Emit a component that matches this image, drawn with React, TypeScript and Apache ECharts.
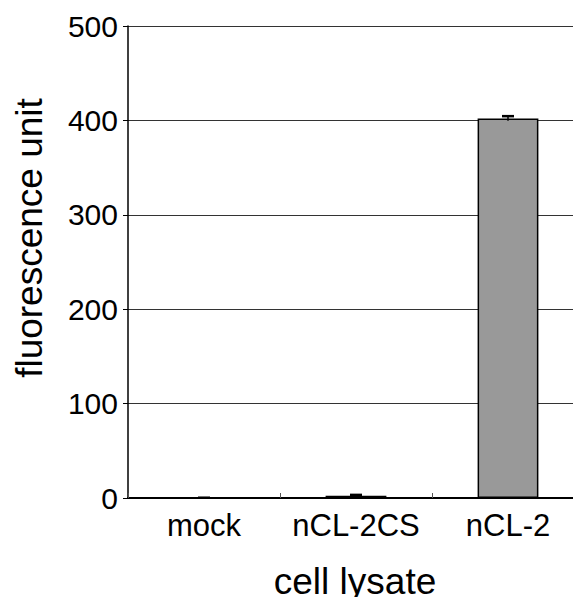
import React, { useEffect, useRef } from "react";
import * as echarts from "echarts";

const categories = ["mock", "nCL-2CS", "nCL-2"];
const values = [0, 2.5, 402];
const errors = [0.3, 0.8, 2.5];
const yTicks = [0, 100, 200, 300, 400, 500];
const xTitle = "cell lysate";
const yTitle = "fluorescence unit";

export default function App() {
  const ref = useRef<HTMLDivElement>(null);
  useEffect(() => {
    if (!ref.current) return;
    const chart = echarts.init(ref.current, undefined, { renderer: "svg" });
    const font = "Liberation Sans, Arial, sans-serif";
    chart.setOption({
      animation: false,
      grid: { left: 128, top: 26, bottom: 107, right: -3, containLabel: false, outerBoundsMode: "none" },
      graphic: [
        {
          type: "text",
          x: 355,
          y: 581,
          style: { text: xTitle, fill: "#000", font: `37px ${font}`, textAlign: "center", textVerticalAlign: "middle" },
        },
        {
          type: "text",
          x: 29,
          y: 238,
          rotation: Math.PI / 2,
          style: { text: yTitle, fill: "#000", font: `37px ${font}`, textAlign: "center", textVerticalAlign: "middle" },
        },
      ],
      xAxis: {
        type: "category",
        data: categories,
        axisLine: { lineStyle: { color: "#000", width: 2 } },
        axisTick: { show: true, inside: true, length: 5, lineStyle: { color: "#555", width: 1 } },
        axisLabel: { color: "#000", fontSize: 31, fontFamily: font, margin: 12, interval: 0 },
      },
      yAxis: {
        type: "value",
        min: yTicks[0],
        max: yTicks[yTicks.length - 1],
        interval: 100,
        axisLine: { show: true, lineStyle: { color: "#000", width: 1.5 } },
        axisTick: { show: true, length: 5, lineStyle: { color: "#000" } },
        axisLabel: { color: "#000", fontSize: 30, fontFamily: font, margin: 10 },
        splitLine: { show: true, lineStyle: { color: "#333", width: 1 } },
      },
      series: [
        {
          type: "bar",
          data: values,
          barWidth: "40%",
          itemStyle: { color: "#999999", borderColor: "#000", borderWidth: 1.5 },
        },
        {
          type: "custom",
          data: values.map((v, i) => [i, v, errors[i]]),
          renderItem: (params: any, api: any) => {
            const i = api.value(0);
            const v = api.value(1);
            const e = api.value(2);
            const top = api.coord([i, v + e]);
            const bot = api.coord([i, v - e]);
            const hw = 6;
            return {
              type: "group",
              children: [
                { type: "line", shape: { x1: top[0], y1: top[1], x2: bot[0], y2: bot[1] }, style: { stroke: "#000", lineWidth: 1.5 } },
                { type: "line", shape: { x1: top[0] - hw, y1: top[1], x2: top[0] + hw, y2: top[1] }, style: { stroke: "#000", lineWidth: 2.5 } },
              ],
            };
          },
          z: 5,
        },
      ],
    });
    return () => chart.dispose();
  }, []);
  return <div ref={ref} style={{ width: 581, height: 605, margin: -8 }} />;
}
